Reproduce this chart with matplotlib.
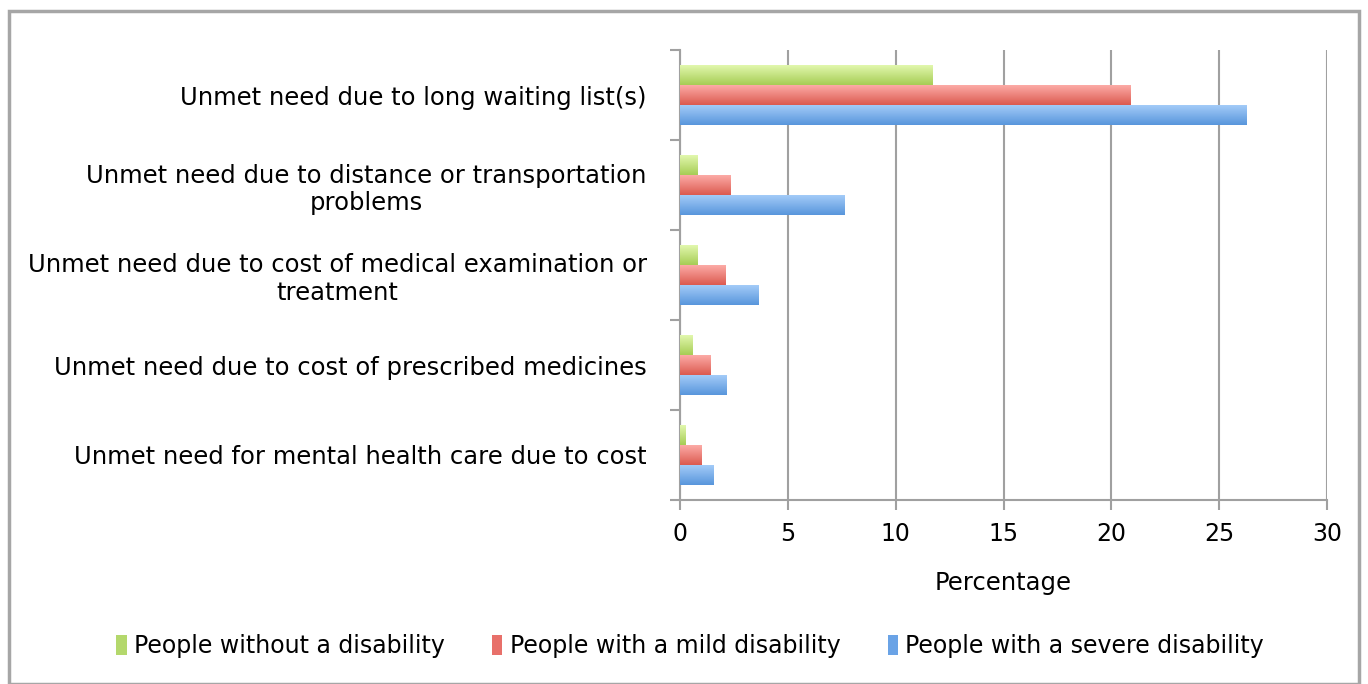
import numpy as np
import matplotlib.pyplot as plt
from matplotlib.patches import Rectangle
from matplotlib.colors import LinearSegmentedColormap

# categories from top to bottom
categories = [
    "Unmet need due to long waiting list(s)",
    "Unmet need due to distance or transportation\nproblems",
    "Unmet need due to cost of medical examination or\ntreatment",
    "Unmet need due to cost of prescribed medicines",
    "Unmet need for mental health care due to cost",
]
series_names = [
    "People without a disability",
    "People with a mild disability",
    "People with a severe disability",
]
no_disability = [11.7, 0.8, 0.8, 0.6, 0.25]
mild_disability = [20.9, 2.35, 2.1, 1.4, 1.0]
severe_disability = [26.25, 7.65, 3.65, 2.15, 1.55]
x_ticks = [0, 5, 10, 15, 20, 25, 30]

colors = ["#b4d86c", "#e8706a", "#6aa3e6"]
# top / bottom shades for the bar gradient
shades = [("#e2f7ad", "#a6cd55"), ("#fcaba6", "#dc5a50"), ("#a3cbf8", "#5896dc")]

fig = plt.figure(figsize=(13.68, 6.84), dpi=100)
ax = fig.add_axes([680 / 1368, 1 - 500 / 684, 647 / 1368, 450 / 684])

# outer frame of the chart
fig.patches.append(Rectangle((9 / 1368, 0.0), 1350 / 1368, 1 - 11 / 684,
                             transform=fig.transFigure, fill=False,
                             edgecolor="#a6a6a6", linewidth=2.5))

n = len(categories)
centers = np.arange(n)[::-1].astype(float)
h = 0.222
data = [no_disability, mild_disability, severe_disability]
grad = np.linspace(0, 1, 64).reshape(-1, 1)
for i, (vals, name) in enumerate(zip(data, series_names)):
    bars = ax.barh(centers + (1 - i) * h, vals, height=h, color=colors[i],
                   linewidth=0, label=name, zorder=3)
    cmap = LinearSegmentedColormap.from_list("g%d" % i, list(shades[i]))
    for b in bars:
        x0, y0 = b.get_x(), b.get_y()
        ax.imshow(grad, cmap=cmap, aspect="auto", origin="upper",
                  extent=(x0, x0 + b.get_width(), y0, y0 + b.get_height()),
                  zorder=3.5)

ax.set_xlim(0, 30)
ax.set_ylim(-0.5, n - 0.5)
ax.set_xticks(x_ticks)
ax.set_xticklabels([str(t) for t in x_ticks], fontsize=17)
ax.grid(axis="x", color="#a0a0a0", linewidth=1.5, zorder=0)

ax.set_yticks(centers)
ax.set_yticklabels(categories, fontsize=17.5)
for lbl in ax.get_yticklabels():
    lbl.set_horizontalalignment("right")
    lbl.set_multialignment("center")
ax.tick_params(axis="y", length=0, pad=24)
ax.set_yticks(np.arange(-0.5, n, 1.0), minor=True)
ax.tick_params(axis="y", which="minor", length=7, width=1.5, color="#a0a0a0")
ax.tick_params(axis="x", length=7, width=1.5, color="#a0a0a0", pad=9)

for side in ["top", "right"]:
    ax.spines[side].set_visible(False)
for side in ["left", "bottom"]:
    ax.spines[side].set_color("#a0a0a0")
    ax.spines[side].set_linewidth(1.5)

ax.set_xlabel("Percentage", fontsize=17.5, labelpad=18)

leg = fig.legend(loc="center", bbox_to_anchor=(690 / 1368, 1 - 646 / 684),
                 ncol=3, frameon=False, fontsize=17, handlelength=0.45,
                 handleheight=0.9, handletextpad=0.3, columnspacing=2.0)

fig.savefig("out.png", dpi=100)
